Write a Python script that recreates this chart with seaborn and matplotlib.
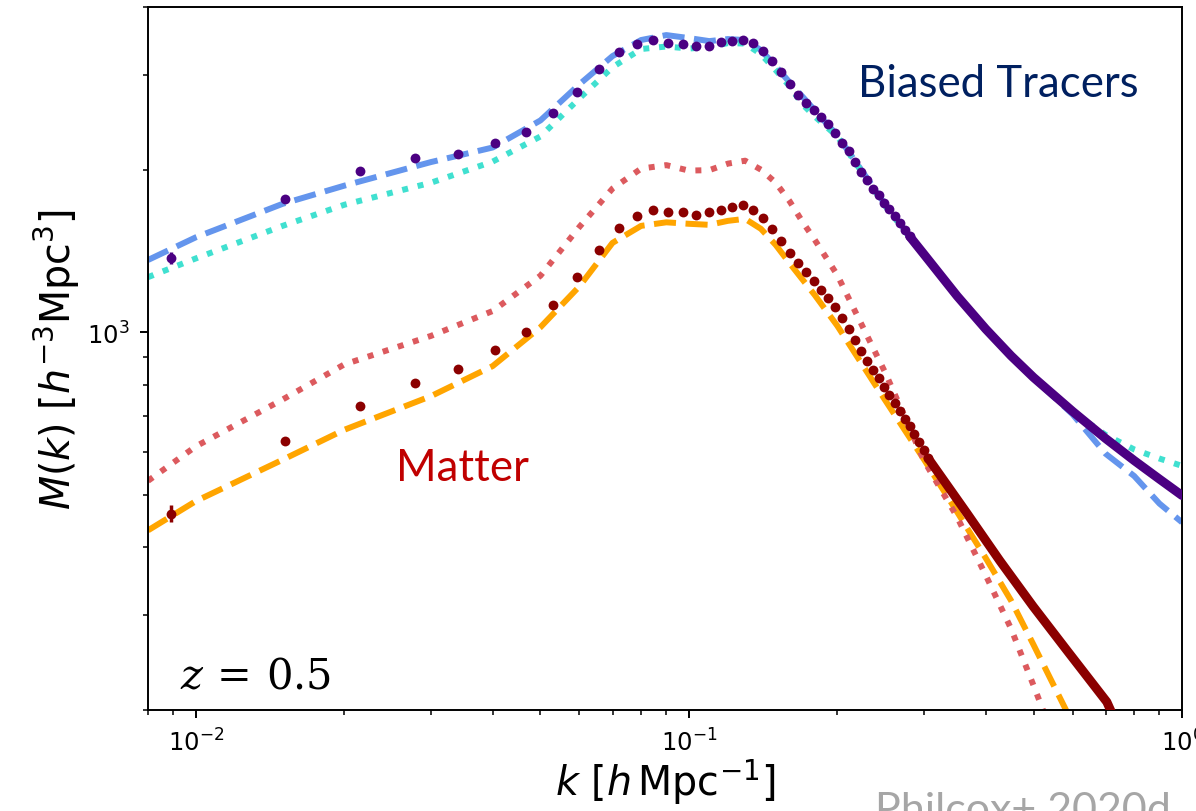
import matplotlib
matplotlib.use("Agg")
import matplotlib.pyplot as plt
from matplotlib.ticker import NullFormatter, FixedLocator
import seaborn as sns

# ---- binned measurements (k in h/Mpc, M(k) in h^-3 Mpc^3) ----
k_bins = [0.0089, 0.0152, 0.0215, 0.0278, 0.0341, 0.0405, 0.0468, 0.0531,
          0.0594, 0.0657, 0.0720, 0.0783, 0.0846, 0.0909, 0.0972, 0.1036,
          0.1099, 0.1162, 0.1225, 0.1288, 0.1351, 0.1414, 0.1477, 0.1540,
          0.1603, 0.1667, 0.1730, 0.1793, 0.1856, 0.1919, 0.1982, 0.2045,
          0.2108, 0.2171, 0.2234, 0.2297, 0.2361, 0.2424, 0.2487, 0.2550,
          0.2613, 0.2676, 0.2739, 0.2802, 0.2865, 0.2928, 0.2991, 0.3055]

tracer_pts = [1373, 1762, 1990, 2103, 2136, 2236, 2353, 2542, 2781, 3069,
              3301, 3420, 3478, 3426, 3416, 3382, 3391, 3441, 3465, 3476,
              3426, 3319, 3179, 3038, 2882, 2749, 2653, 2578, 2506, 2425,
              2340, 2245, 2163, 2067, 1981, 1911, 1845, 1792, 1737, 1688,
              1641, 1594, 1549, 1506]
tracer_err = [36, 14]

matter_pts = [462, 630, 732, 807, 857, 926, 1003, 1122, 1264, 1423,
              1559, 1640, 1681, 1669, 1669, 1651, 1669, 1687, 1704, 1717,
              1681, 1627, 1554, 1474, 1403, 1344, 1293, 1244, 1199, 1157,
              1112, 1062, 1016, 968, 923, 885, 851, 824, 793, 765,
              740, 714, 691, 670, 649, 626, 606, 585]
matter_err = [17, 8]

# densely sampled high-k tails of the measurements
k_tracer_tail = [0.2802, 0.30, 0.35, 0.40, 0.45, 0.50, 0.60, 0.70, 0.80, 0.90, 1.00]
tracer_tail = [1506, 1393, 1167, 1014, 905, 825, 714, 636, 579, 535, 499]
k_matter_tail = [0.3055, 0.366, 0.427, 0.499, 0.584, 0.704, 0.75]
matter_tail = [585, 463, 378, 311, 258, 207, 182]

# ---- model curves ----
k_model = [0.008, 0.01, 0.015, 0.02, 0.03, 0.04, 0.05, 0.06, 0.07, 0.08,
           0.09, 0.10, 0.11, 0.12, 0.13, 0.14, 0.15, 0.16, 0.17, 0.18,
           0.20, 0.25, 0.30, 0.35, 0.40, 0.45, 0.50, 0.60, 0.70, 0.80,
           0.90, 1.00]
tracer_model_a = [1361, 1499, 1729, 1868, 2066, 2198, 2467, 2878, 3245, 3475,
                  3549, 3504, 3459, 3489, 3475, 3329, 3108, 2902, 2730, 2575,
                  2314, 1725, 1390, 1165, 1012, 903, 823, 705, 596, 542,
                  482, 445]
tracer_model_b = [1265, 1370, 1574, 1722, 1892, 2070, 2304, 2711, 3095, 3344,
                  3380, 3351, 3372, 3430, 3423, 3272, 3056, 2854, 2642, 2509,
                  2304, 1715, 1385, 1163, 1012, 903, 823, 712, 646, 607,
                  584, 566]

k_matter_a = [0.008, 0.01, 0.015, 0.02, 0.03, 0.04, 0.05, 0.06, 0.07, 0.08,
              0.09, 0.10, 0.11, 0.12, 0.13, 0.14, 0.15, 0.16, 0.17, 0.18,
              0.20, 0.25, 0.30, 0.35, 0.40, 0.45, 0.50, 0.60]
matter_model_a = [430, 487, 581, 660, 762, 866, 1022, 1217, 1464, 1574,
                  1598, 1588, 1581, 1608, 1622, 1554, 1451, 1343, 1252, 1172,
                  1028, 749, 581, 465, 382, 319, 264, 189]
k_matter_b = [0.008, 0.01, 0.015, 0.02, 0.03, 0.04, 0.05, 0.06, 0.07, 0.08,
              0.09, 0.10, 0.11, 0.12, 0.13, 0.14, 0.15, 0.16, 0.17, 0.18,
              0.20, 0.25, 0.30, 0.35, 0.40, 0.45, 0.50, 0.55]
matter_model_b = [531, 615, 751, 872, 985, 1095, 1273, 1568, 1845, 2009,
                  2039, 1992, 1996, 2052, 2078, 2000, 1892, 1749, 1601, 1483,
                  1276, 843, 578, 455, 355, 283, 222, 177]

# y-axis labelled tick
y_major = [1000]
y_major_labels = [r"$\mathdefault{10^{3}}$"]

# ---- styling ----
sns.set_theme(style="ticks")
plt.rcParams.update({
    "font.family": ["DejaVu Sans"],
    "mathtext.fontset": "dejavusans",
    "axes.edgecolor": "black",
    "axes.linewidth": 1.4,
    "xtick.color": "black",
    "ytick.color": "black",
    "text.color": "black",
    "axes.labelcolor": "black",
    "xtick.labelsize": 17.5,
    "ytick.labelsize": 17.5,
    "xtick.major.size": 6.1,
    "ytick.major.size": 6.1,
    "xtick.minor.size": 3.5,
    "ytick.minor.size": 3.5,
    "xtick.major.width": 1.4,
    "ytick.major.width": 1.4,
    "xtick.minor.width": 1.1,
    "ytick.minor.width": 1.1,
    "xtick.major.pad": 7,
    "ytick.major.pad": 7,
})

fig = plt.figure(figsize=(11.96, 8.12), dpi=100)
ax = fig.add_axes([148 / 1196, 1 - 711 / 812, 1034 / 1196, 703 / 812])
ax.set_xscale("log")
ax.set_yscale("log")

dash = (0, (3.7, 1.6))
dot = (0, (1, 1.65))
LW = 4.3

sns.lineplot(x=k_model, y=tracer_model_a, ax=ax, color="cornflowerblue",
             linewidth=LW, linestyle=dash, sort=False, estimator=None)
sns.lineplot(x=k_model, y=tracer_model_b, ax=ax, color="turquoise",
             linewidth=LW, linestyle=dot, sort=False, estimator=None)
sns.lineplot(x=k_matter_a, y=matter_model_a, ax=ax, color="orange",
             linewidth=LW, linestyle=dash, sort=False, estimator=None)
sns.lineplot(x=k_matter_b, y=matter_model_b, ax=ax, color="#DC5A5E",
             linewidth=LW, linestyle=dot, sort=False, estimator=None)

# measurements
sns.lineplot(x=k_tracer_tail, y=tracer_tail, ax=ax, color="indigo",
             linewidth=6.5, sort=False, estimator=None, zorder=4)
sns.lineplot(x=k_matter_tail, y=matter_tail, ax=ax, color="darkred",
             linewidth=6.5, sort=False, estimator=None, zorder=4)
sns.scatterplot(x=k_bins[:len(tracer_pts)], y=tracer_pts, ax=ax,
                color="indigo", s=50, linewidth=0, zorder=5)
sns.scatterplot(x=k_bins, y=matter_pts, ax=ax,
                color="darkred", s=50, linewidth=0, zorder=5)
ax.errorbar(k_bins[:2], tracer_pts[:2], yerr=tracer_err, fmt="none",
            ecolor="indigo", elinewidth=2.5, capsize=0, zorder=5)
ax.errorbar(k_bins[:2], matter_pts[:2], yerr=matter_err, fmt="none",
            ecolor="darkred", elinewidth=2.5, capsize=0, zorder=5)

ax.set_xlim(0.008, 1.0)
ax.set_ylim(200, 4000)
ax.yaxis.set_major_locator(FixedLocator(y_major))
ax.set_yticklabels(y_major_labels, fontsize=17.5)
ax.yaxis.set_minor_formatter(NullFormatter())
ax.xaxis.set_minor_formatter(NullFormatter())
ax.tick_params(which="both", direction="out")
ax.tick_params(axis="x", which="major", labelsize=17.5)

ax.set_xlabel(r"$k$ [$h\,$Mpc$^{-1}$]", fontsize=28.5, labelpad=1)
ax.set_ylabel(r"$M(k)$ [$h^{-3}$Mpc$^3$]", fontsize=28.5, labelpad=4)

ax.text(0.6867, 0.8734, "Biased Tracers", transform=ax.transAxes,
        fontsize=31.5, color="#002060", family="Lato", va="baseline")
ax.text(0.2398, 0.3272, "Matter", transform=ax.transAxes,
        fontsize=31.5, color="#C00000", family="Lato", va="baseline")
ax.text(0.0309, 0.0327, r"$z\, =\, 0.5$", transform=ax.transAxes,
        fontsize=30, math_fontfamily="dejavuserif", va="baseline")

fig.text(875 / 1196, 1 - 823 / 812, "Philcox+ 2020d", fontsize=31,
         color="#A6A6A6", family="Lato", va="baseline")

fig.savefig("out.png", dpi=100)
